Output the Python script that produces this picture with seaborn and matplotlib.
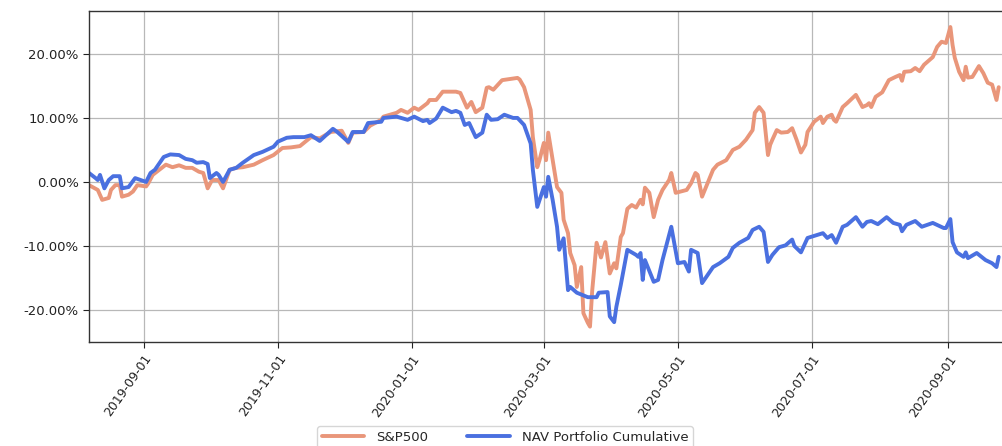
import matplotlib
matplotlib.use("Agg")
import matplotlib.pyplot as plt
import matplotlib.dates as mdates
from matplotlib.ticker import FuncFormatter, FixedLocator
import pandas as pd
import seaborn as sns

# ---------------- data ----------------
sp_dates = [
    "2019-08-07", "2019-08-11", "2019-08-13", "2019-08-16", "2019-08-17", "2019-08-19",
    "2019-08-21", "2019-08-22", "2019-08-25", "2019-08-27", "2019-08-29", "2019-09-02",
    "2019-09-03", "2019-09-05", "2019-09-08", "2019-09-11", "2019-09-14", "2019-09-17",
    "2019-09-20", "2019-09-23", "2019-09-26", "2019-09-28", "2019-09-30", "2019-10-02",
    "2019-10-05", "2019-10-07", "2019-10-10", "2019-10-13", "2019-10-16", "2019-10-21",
    "2019-10-25", "2019-10-30", "2019-11-03", "2019-11-07", "2019-11-11", "2019-11-16",
    "2019-11-20", "2019-11-25", "2019-11-30", "2019-12-03", "2019-12-05", "2019-12-10",
    "2019-12-13", "2019-12-18", "2019-12-19", "2019-12-25", "2019-12-27", "2019-12-30",
    "2020-01-02", "2020-01-04", "2020-01-08", "2020-01-09", "2020-01-12", "2020-01-15",
    "2020-01-21", "2020-01-23", "2020-01-26", "2020-01-28", "2020-01-30", "2020-02-02",
    "2020-02-04", "2020-02-05", "2020-02-07", "2020-02-11", "2020-02-15", "2020-02-18",
    "2020-02-19", "2020-02-21", "2020-02-24", "2020-02-25", "2020-02-27", "2020-02-28",
    "2020-03-01", "2020-03-02", "2020-03-03", "2020-03-05", "2020-03-07", "2020-03-09",
    "2020-03-10", "2020-03-12", "2020-03-13", "2020-03-15", "2020-03-16", "2020-03-18",
    "2020-03-19", "2020-03-21", "2020-03-22", "2020-03-23", "2020-03-25", "2020-03-27",
    "2020-03-29", "2020-03-31", "2020-04-02", "2020-04-03", "2020-04-05", "2020-04-06",
    "2020-04-08", "2020-04-10", "2020-04-12", "2020-04-14", "2020-04-15", "2020-04-16",
    "2020-04-18", "2020-04-20", "2020-04-22", "2020-04-24", "2020-04-27", "2020-04-28",
    "2020-04-30", "2020-05-05", "2020-05-07", "2020-05-09", "2020-05-10", "2020-05-12",
    "2020-05-17", "2020-05-19", "2020-05-23", "2020-05-26", "2020-05-29", "2020-06-01",
    "2020-06-04", "2020-06-05", "2020-06-07", "2020-06-09", "2020-06-11", "2020-06-12",
    "2020-06-13", "2020-06-15", "2020-06-17", "2020-06-20", "2020-06-22", "2020-06-24",
    "2020-06-26", "2020-06-28", "2020-06-29", "2020-07-02", "2020-07-05", "2020-07-06",
    "2020-07-08", "2020-07-10", "2020-07-11", "2020-07-12", "2020-07-15", "2020-07-17",
    "2020-07-21", "2020-07-24", "2020-07-26", "2020-07-27", "2020-07-28", "2020-07-30",
    "2020-08-02", "2020-08-05", "2020-08-08", "2020-08-10", "2020-08-11", "2020-08-12",
    "2020-08-15", "2020-08-17", "2020-08-19", "2020-08-21", "2020-08-25", "2020-08-27",
    "2020-08-29", "2020-08-31", "2020-09-02", "2020-09-03", "2020-09-04", "2020-09-06",
    "2020-09-08", "2020-09-09", "2020-09-10", "2020-09-12", "2020-09-15", "2020-09-17",
    "2020-09-19", "2020-09-21", "2020-09-23", "2020-09-24",
]
sp_values = [
    -0.5, -1.25, -2.8, -2.5, -1.25, -0.5,
    -0.5, -2.3, -2.0, -1.5, -0.5, -0.7,
    -0.2, 1.1, 1.9, 2.7, 2.3, 2.6,
    2.2, 2.2, 1.6, 1.4, -1.0, 0.3,
    0.3, -1.0, 1.9, 2.2, 2.3, 2.7,
    3.4, 4.2, 5.3, 5.4, 5.6, 7.0,
    6.8, 7.8, 8.0, 6.1, 7.7, 7.8,
    8.8, 9.7, 10.2, 10.8, 11.25, 10.8,
    11.6, 11.25, 12.3, 12.8, 12.8, 14.1,
    14.1, 13.9, 11.6, 12.5, 10.9, 11.6,
    14.7, 14.8, 14.4, 15.9, 16.1, 16.25,
    16.0, 14.8, 11.25, 7.0, 2.3, 3.4,
    6.1, 3.4, 7.7, 3.4, -0.8, -1.7,
    -5.9, -8.0, -11.1, -13.0, -16.4, -13.3,
    -20.5, -22.0, -22.6, -17.0, -9.5, -11.8,
    -9.4, -14.3, -12.7, -13.5, -8.6, -8.0,
    -4.2, -3.6, -4.0, -2.8, -3.5, -0.9,
    -1.7, -5.5, -2.8, -1.25, 0.3, 1.4,
    -1.7, -1.25, -0.2, 1.4, 1.1, -2.3,
    1.9, 2.7, 3.4, 5.0, 5.5, 6.6,
    8.1, 10.8, 11.7, 10.8, 4.2, 5.8,
    6.6, 8.1, 7.7, 7.8, 8.4, 6.6,
    4.6, 5.8, 7.8, 9.4, 10.2, 9.2,
    10.2, 10.5, 9.7, 9.4, 11.7, 12.3,
    13.6, 11.7, 12.0, 12.3, 11.7, 13.3,
    14.0, 15.9, 16.4, 16.7, 15.8, 17.2,
    17.3, 17.8, 17.3, 18.3, 19.5, 21.1,
    21.9, 21.7, 24.2, 21.4, 19.4, 17.2,
    15.9, 18.0, 16.3, 16.4, 18.1, 17.0,
    15.5, 15.2, 12.8, 14.8,
]

nav_dates = [
    "2019-08-07", "2019-08-10", "2019-08-11", "2019-08-12", "2019-08-14", "2019-08-16",
    "2019-08-18", "2019-08-21", "2019-08-22", "2019-08-25", "2019-08-28", "2019-09-02",
    "2019-09-04", "2019-09-06", "2019-09-10", "2019-09-13", "2019-09-17", "2019-09-20",
    "2019-09-23", "2019-09-25", "2019-09-28", "2019-09-30", "2019-10-01", "2019-10-04",
    "2019-10-05", "2019-10-07", "2019-10-10", "2019-10-13", "2019-10-16", "2019-10-21",
    "2019-10-25", "2019-10-30", "2019-11-01", "2019-11-05", "2019-11-08", "2019-11-13",
    "2019-11-16", "2019-11-20", "2019-11-26", "2019-11-28", "2019-12-03", "2019-12-05",
    "2019-12-10", "2019-12-12", "2019-12-18", "2019-12-19", "2019-12-25", "2019-12-30",
    "2020-01-02", "2020-01-06", "2020-01-08", "2020-01-09", "2020-01-12", "2020-01-15",
    "2020-01-19", "2020-01-21", "2020-01-23", "2020-01-25", "2020-01-27", "2020-01-30",
    "2020-02-02", "2020-02-04", "2020-02-06", "2020-02-09", "2020-02-12", "2020-02-16",
    "2020-02-18", "2020-02-21", "2020-02-24", "2020-02-25", "2020-02-27", "2020-03-01",
    "2020-03-02", "2020-03-03", "2020-03-05", "2020-03-07", "2020-03-08", "2020-03-10",
    "2020-03-12", "2020-03-13", "2020-03-16", "2020-03-21", "2020-03-25", "2020-03-26",
    "2020-03-30", "2020-03-31", "2020-04-02", "2020-04-03", "2020-04-05", "2020-04-08",
    "2020-04-12", "2020-04-13", "2020-04-14", "2020-04-15", "2020-04-16", "2020-04-20",
    "2020-04-22", "2020-04-24", "2020-04-28", "2020-05-01", "2020-05-04", "2020-05-06",
    "2020-05-07", "2020-05-10", "2020-05-12", "2020-05-17", "2020-05-20", "2020-05-24",
    "2020-05-26", "2020-05-29", "2020-06-02", "2020-06-04", "2020-06-07", "2020-06-09",
    "2020-06-11", "2020-06-13", "2020-06-16", "2020-06-19", "2020-06-22", "2020-06-23",
    "2020-06-26", "2020-06-29", "2020-07-06", "2020-07-08", "2020-07-10", "2020-07-12",
    "2020-07-15", "2020-07-17", "2020-07-21", "2020-07-24", "2020-07-26", "2020-07-28",
    "2020-07-31", "2020-08-04", "2020-08-07", "2020-08-10", "2020-08-11", "2020-08-13",
    "2020-08-17", "2020-08-20", "2020-08-25", "2020-08-30", "2020-08-31", "2020-09-02",
    "2020-09-03", "2020-09-05", "2020-09-08", "2020-09-09", "2020-09-10", "2020-09-14",
    "2020-09-18", "2020-09-21", "2020-09-23", "2020-09-24",
]
nav_values = [
    1.4, 0.6, 0.3, 1.1, -1.0, 0.3,
    0.9, 0.9, -1.0, -0.8, 0.6, 0.0,
    1.4, 1.9, 3.9, 4.3, 4.2, 3.6,
    3.4, 3.0, 3.1, 2.8, 0.6, 1.4,
    1.1, 0.0, 1.9, 2.2, 3.0, 4.2,
    4.7, 5.5, 6.3, 6.9, 7.0, 7.0,
    7.3, 6.4, 8.3, 7.8, 6.25, 7.8,
    7.8, 9.2, 9.4, 10.0, 10.2, 9.7,
    10.2, 9.5, 9.7, 9.2, 9.9, 11.6,
    10.9, 11.1, 10.8, 8.9, 9.2, 7.0,
    7.7, 10.5, 9.7, 9.8, 10.5, 10.0,
    10.0, 8.9, 6.0, 1.9, -3.9, -0.8,
    -2.3, 0.8, -2.8, -7.0, -10.6, -8.8,
    -16.9, -16.4, -17.3, -18.0, -18.0, -17.3,
    -17.2, -21.0, -21.9, -19.5, -16.1, -10.6,
    -11.4, -11.7, -11.1, -15.3, -12.2, -15.6,
    -15.3, -12.2, -7.0, -12.7, -12.5, -14.0,
    -10.6, -11.1, -15.8, -13.3, -12.7, -11.7,
    -10.3, -9.5, -8.75, -7.5, -7.0, -7.8,
    -12.5, -11.4, -10.2, -9.9, -9.0, -10.0,
    -11.0, -8.75, -8.0, -8.75, -8.3, -9.5,
    -7.0, -6.7, -5.5, -7.0, -6.25, -6.1,
    -6.6, -5.5, -6.4, -6.7, -7.7, -6.7,
    -6.1, -7.0, -6.4, -7.2, -7.2, -5.8,
    -9.4, -11.0, -11.7, -11.0, -11.9, -11.1,
    -12.2, -12.7, -13.3, -11.7,
]

series_labels = ["S&P500", "NAV Portfolio Cumulative"]
series_colors = ["#E9967A", "#4A70E0"]
x_tick_dates = ["2019-09-01", "2019-11-01", "2020-01-01", "2020-03-01",
                "2020-05-01", "2020-07-01", "2020-09-01"]
y_ticks = [-20, -10, 0, 10, 20]
x_range = ["2019-08-07", "2020-09-25 12:00"]
y_range = [-25.0, 26.7]

# ---------------- drawing ----------------
sns.set_style("ticks")
plt.rcParams["font.family"] = ["DejaVu Sans"]

fig = plt.figure(figsize=(10.02, 4.46), dpi=100)
ax = fig.add_axes([89 / 1002, 104 / 446, 913 / 1002, 331 / 446])

df_sp = pd.DataFrame({"date": pd.to_datetime(sp_dates), "value": sp_values})
df_nav = pd.DataFrame({"date": pd.to_datetime(nav_dates), "value": nav_values})

sns.lineplot(data=df_sp, x="date", y="value", ax=ax, color=series_colors[0],
             linewidth=2.8, label=series_labels[0], estimator=None, sort=False)
sns.lineplot(data=df_nav, x="date", y="value", ax=ax, color=series_colors[1],
             linewidth=2.8, label=series_labels[1], estimator=None, sort=False)

ax.set_xlim(pd.to_datetime(x_range[0]), pd.to_datetime(x_range[1]))
ax.set_ylim(*y_range)
ax.set_xlabel("")
ax.set_ylabel("")

ax.xaxis.set_major_locator(FixedLocator(mdates.date2num(pd.to_datetime(x_tick_dates))))
ax.xaxis.set_major_formatter(mdates.DateFormatter("%Y-%m-%d"))
ax.yaxis.set_major_locator(FixedLocator(y_ticks))
ax.yaxis.set_major_formatter(FuncFormatter(lambda v, p: f"{v:.2f}%"))

ax.grid(True, color="#b8b8b8", linewidth=0.9)
ax.set_axisbelow(True)
for s in ["left", "bottom", "top"]:
    ax.spines[s].set_visible(True)
    ax.spines[s].set_color("#333333")
    ax.spines[s].set_linewidth(1.0)
ax.spines["right"].set_visible(False)

ax.tick_params(axis="y", labelsize=9.5, colors="#222222", length=4)
ax.tick_params(axis="x", labelsize=9, colors="#222222", length=4)
plt.setp(ax.get_xticklabels(), rotation=55, ha="right", rotation_mode="anchor")

handles, labels = ax.get_legend_handles_labels()
ax.get_legend().remove()
fig.legend(handles, labels, loc="upper center", bbox_to_anchor=(505 / 1002, 20 / 446),
           borderaxespad=0.0, ncol=2, frameon=True, fontsize=9.5, handlelength=3.2,
           columnspacing=3.0, handletextpad=0.9, borderpad=0.35)

fig.savefig("out.png", dpi=100)
